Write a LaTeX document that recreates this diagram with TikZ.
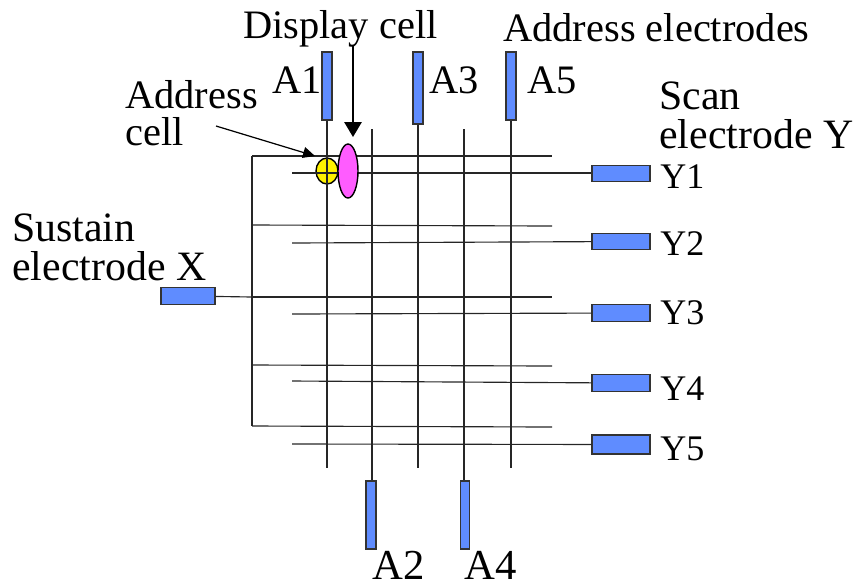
\documentclass[tikz,border=0pt]{standalone}
\usepackage{fontspec}
\setmainfont{Liberation Serif}
\usetikzlibrary{arrows.meta,positioning,shapes.geometric}
\definecolor{elecblue}{HTML}{5F8CFF}
\definecolor{cellpink}{HTML}{FF5CFF}
\tikzset{wire/.style={line width=0.65pt,draw=black!85},
  arrow/.style={-{Triangle[length=3mm,width=3.5mm]},line width=0.7pt},
  thinarrow/.style={-{Triangle[length=2.4mm,width=2.2mm]},line width=0.7pt},
  vbar/.style={draw=black!80,fill=elecblue,line width=0.8pt,minimum width=0.2cm,inner sep=0pt},
  hbar/.style={draw=black!80,fill=elecblue,line width=0.8pt,minimum height=0.33cm,minimum width=1.16cm,inner sep=0pt},
  lbl/.style={font=\fontsize{23}{21}\selectfont,anchor=base west,inner sep=0pt,align=left},
  lblbig/.style={lbl,font=\fontsize{24.3}{21.8}\selectfont},
  lblside/.style={lbl,font=\fontsize{23.8}{21.8}\selectfont},
  lblsmall/.style={lbl,font=\fontsize{20.5}{21}\selectfont},
  cell/.style={ellipse,draw=black,line width=0.8pt,inner sep=0pt}}

\begin{document}
\begin{tikzpicture}[x=0.02cm,y=-0.02cm]
\useasboundingbox (0,0) rectangle (857,586);
% electrodes
\node[vbar,minimum height=1.36cm] (A1) at (327,86) {};
\node[vbar,minimum height=1.44cm] (A3) at (418,88) {};
\node[vbar,minimum height=1.36cm] (A5) at (511,86) {};
\node[vbar,minimum height=1.36cm] (A2) at (371,515) {};
\node[vbar,minimum width=0.18cm,minimum height=1.36cm] (A4) at (465,515) {};
\node[hbar] (Y1) at (621,173.5) {};
\node[hbar] (Y2) at (621,241.5) {};
\node[hbar] (Y3) at (621,313) {};
\node[hbar] (Y4) at (621,383) {};
\node[hbar,minimum height=0.38cm] (Y5) at (621,444.5) {};
\node[hbar,minimum width=1.08cm] (X) at (188,296) {};
% free ends
\coordinate (A1end) at (327,468);
\coordinate (A3end) at (418,468);
\coordinate (A5end) at (511,468);
\coordinate (A2top) at (372,129);
\coordinate (A4top) at (464,129);
\coordinate (S1a) at (252,156);
\coordinate (S1b) at (552,156);
\coordinate (S2a) at (252,225);
\coordinate (S2b) at (552,226);
\coordinate (S3a) at (252,297);
\coordinate (S3b) at (552,297);
\coordinate (S4a) at (252,365);
\coordinate (S4b) at (552,366);
\coordinate (S5a) at (252,426);
\coordinate (S5b) at (552,427);
\coordinate (Y1a) at (292,173);
\coordinate (Y2a) at (292,243);
\coordinate (Y3a) at (292,314);
\coordinate (Y4a) at (292,381);
\coordinate (Y5a) at (292,444);
\coordinate (disptop) at (353,46);
\coordinate (disptip) at (353,137);
\coordinate (addrtail) at (216,126);
\coordinate (addrtip) at (315,156);
% cells and wires
\node[cell,fill=yellow,minimum width=0.44cm,minimum height=0.52cm] (addrcell) at (327,171) {};
\draw[wire] (A1)--(A1end);
\draw[wire] (A3)--(A3end);
\draw[wire] (A5)--(A5end);
\draw[wire] (A2top)--(A2top|-A2.north);
\draw[wire] (A4top)--(A4top|-A4.north);
\draw[wire] (S1a)--(S1b);
\draw[wire] (S2a)--(S2b);
\draw[wire] (S3a)--(S3b);
\draw[wire] (S4a)--(S4b);
\draw[wire] (S5a)--(S5b);
\draw[wire] (S1a)--(S5a);
\draw[wire] (X)--(S3a);
\draw[wire] (Y1a)--(Y1.west|-Y1a);
\draw[wire] (Y2a)--(Y2);
\draw[wire] (Y3a)--(Y3);
\draw[wire] (Y4a)--(Y4);
\draw[wire] (Y5a)--(Y5);
\node[cell,fill=cellpink,minimum width=0.4cm,minimum height=1.08cm] (dispcell) at (348,171) {};
\draw[arrow] (disptop)--(disptip);
\draw[thinarrow] (addrtail)--(addrtip);
% labels
\node[lbl] (lA1) at (272,93) {A1};
\node[lbl] (lA3) at (429,93) {A3};
\node[lbl] (lA5) at (527,93) {A5};
\node[lblbig] (lA2) at (372,579) {A2};
\node[lblbig] (lA4) at (464,579) {A4};
\node[lblsmall] (lY1) at (660,188) {Y1};
\node[lblsmall] (lY2) at (660,255) {Y2};
\node[lblsmall] (lY3) at (660,324) {Y3};
\node[lblsmall] (lY4) at (660,400) {Y4};
\node[lblsmall] (lY5) at (660,460) {Y5};
\node[lbl] (ldisp) at (243,38) {Display cell};
\node[lbl] (laddr) at (503,41) {Address electrodes};
\node[lbl] (lcell) at (125,145) {Address\\cell};
\node[lblside] (lsus) at (12,280) {Sustain\\electrode X};
\node[lblside] (lscan) at (659,148) {Scan\\electrode Y};
\end{tikzpicture}
\end{document}
